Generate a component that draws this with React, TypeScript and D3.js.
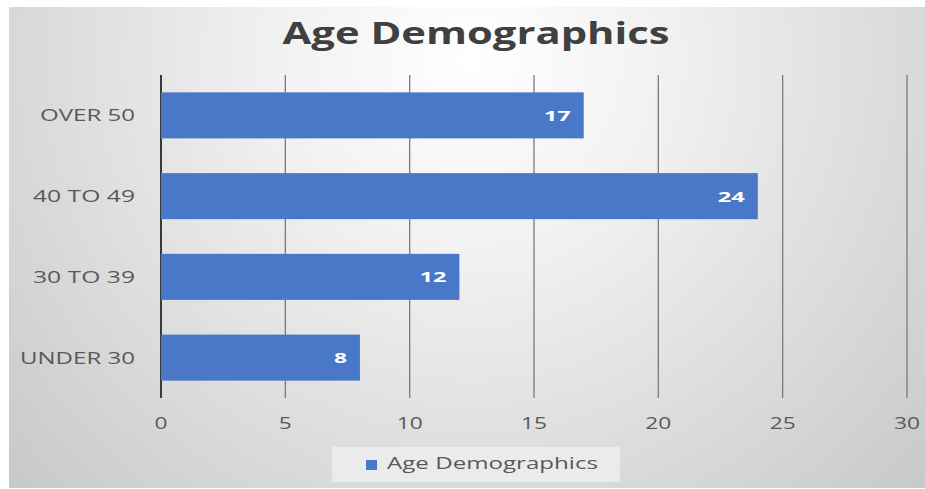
import React from "react";
import * as d3 from "d3";

const categories = ["OVER 50", "40 TO 49", "30 TO 39", "UNDER 30"];
const values = [17, 24, 12, 8];
const xTicks = [0, 5, 10, 15, 20, 25, 30];
const title = "Age Demographics";
const seriesName = "Age Demographics";

const W = 925;
const H = 489;
const left = 161;
const right = 907;
const top = 75;
const bottom = 398;

export default function App() {
  const x = d3.scaleLinear().domain([0, 30]).range([left, right]);
  const y = d3
    .scaleBand<string>()
    .domain(categories)
    .range([top, bottom])
    .paddingInner(0.43)
    .paddingOuter(0.215);
  const catLen: Record<string, number> = {
    "OVER 50": 95,
    "40 TO 49": 102,
    "30 TO 39": 102,
    "UNDER 30": 115,
  };
  const font = "'Open Sans', 'DejaVu Sans', sans-serif";
  return (
    <svg
      width={W}
      height={H}
      style={{ position: "absolute", left: 0, top: 0, display: "block" }}
    >
      <defs>
        <radialGradient
          id="bg"
          gradientUnits="userSpaceOnUse"
          cx={470}
          cy={60}
          r={650}
        >
          <stop offset="0" stopColor="#ffffff" />
          <stop offset="0.3" stopColor="#f1f1f1" />
          <stop offset="1" stopColor="#c6c6c6" />
        </radialGradient>
      </defs>
      <rect x={0} y={0} width={W} height={H} fill="#ffffff" />
      <rect x={9} y={7} width={W - 9} height={481} fill="url(#bg)" />
      <text
        x={476}
        y={44}
        textAnchor="middle"
        fontFamily={font}
        fontWeight={700}
        fontSize={31}
        fill="#404040"
        textLength={387}
        lengthAdjust="spacingAndGlyphs"
      >
        {title}
      </text>
      {xTicks.map((t) => (
        <line
          key={"g" + t}
          x1={x(t)}
          x2={x(t)}
          y1={top}
          y2={bottom}
          stroke={t === 0 ? "#3a3a3a" : "#7a7a7a"}
          strokeWidth={t === 0 ? 2 : 1.3}
        />
      ))}
      {categories.map((c, i) => (
        <g key={c}>
          <rect
            x={x(0)}
            y={y(c)!}
            width={x(values[i]) - x(0)}
            height={y.bandwidth()}
            fill="#4a78c8"
          />
          <text
            x={x(values[i]) - 13}
            y={y(c)! + y.bandwidth() / 2}
            dy="0.36em"
            textAnchor="end"
            fontFamily={font}
            fontWeight={700}
            fontSize={15}
            fill="#ffffff"
            textLength={values[i] >= 10 ? 27 : 13}
            lengthAdjust="spacingAndGlyphs"
          >
            {values[i]}
          </text>
          <text
            x={135}
            y={y(c)! + y.bandwidth() / 2}
            dy="0.36em"
            textAnchor="end"
            fontFamily={font}
            fontSize={17}
            fill="#595959"
            textLength={catLen[c]}
            lengthAdjust="spacingAndGlyphs"
          >
            {c}
          </text>
        </g>
      ))}
      {xTicks.map((t) => (
        <text
          key={"t" + t}
          x={x(t)}
          y={423}
          dy="0.36em"
          textAnchor="middle"
          fontFamily={font}
          fontSize={17}
          fill="#595959"
          textLength={t >= 10 ? 26 : 13}
          lengthAdjust="spacingAndGlyphs"
        >
          {t}
        </text>
      ))}
      <rect x={332} y={447} width={288} height={35} fill="#ededed" opacity={0.85} />
      <rect x={366} y={460} width={11} height={10} fill="#4a78c8" />
      <text
        x={387}
        y={469}
        fontFamily={font}
        fontSize={17}
        fill="#595959"
        textLength={211}
        lengthAdjust="spacingAndGlyphs"
      >
        {seriesName}
      </text>
    </svg>
  );
}
